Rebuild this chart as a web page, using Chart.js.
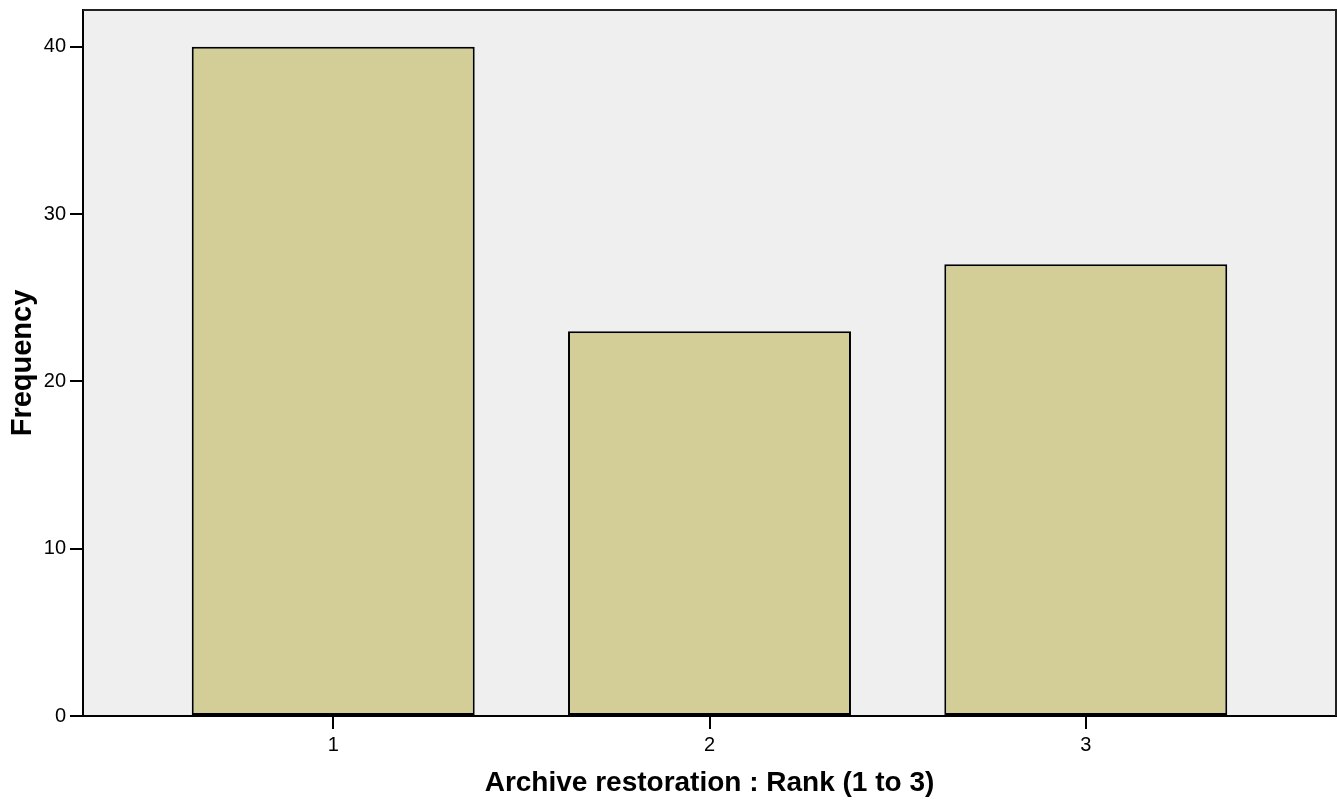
<!DOCTYPE html>
<html>
<head>
<meta charset="utf-8">
<script src="https://cdn.jsdelivr.net/npm/chart.js@4/dist/chart.umd.min.js"></script>
<style>
  html, body { margin: 0; padding: 0; background: #fff; }
  canvas { display: block; }
</style>
</head>
<body>
<canvas id="rankChart" width="1337" height="800"></canvas>
<script>
// data
const ranks = [1, 2, 3];
const frequency = [40, 23, 27];
const yTicks = [0, 10, 20, 30, 40];

const plotBackground = {
	id : 'plotBackground',
	beforeDraw(chart) {
		const { ctx, chartArea: a } = chart;
		ctx.save();
		ctx.fillStyle = '#efefef';
		ctx.fillRect(a.left, a.top, a.right - a.left, a.bottom - a.top);
		ctx.restore();
	},
	afterDraw(chart) {
		const { ctx, chartArea: a } = chart;
		ctx.save();
		ctx.strokeStyle = '#222';
		ctx.lineWidth = 2;
		ctx.beginPath();
		ctx.moveTo(a.left, a.top);
		ctx.lineTo(a.right, a.top);
		ctx.lineTo(a.right, a.bottom);
		ctx.stroke();
		ctx.restore();
	}
};

let ctx = document.getElementById('rankChart').getContext('2d');

let rankChart = new Chart(ctx, {
	type    : 'bar',
	data    : {
		datasets : [
			{
				label              : 'Frequency',
				data               : ranks.map((r, i) => ({ x: r, y: frequency[i] })),
				backgroundColor    : '#d3ce97',
				borderColor        : '#000',
				borderWidth        : 2,
				borderSkipped      : false,
				barPercentage      : 0.752,
				categoryPercentage : 1
			}
		]
	},
	plugins : [ plotBackground ],
	options : {
		responsive          : false,
		animation           : false,
		devicePixelRatio    : 1,
		layout              : { padding: { top: 10, right: 1, left: 0, bottom: 0 } },
		plugins             : { legend: { display: false }, tooltip: { enabled: false } },
		scales              : {
			x : {
				type            : 'linear',
				offset          : false,
				min             : 0.335,
				max             : 3.665,
				afterBuildTicks : (s) => { s.ticks = ranks.map((v) => ({ value: v })); },
				afterFit        : (s) => { s.height = 84; s.paddingLeft = 0; s.paddingRight = 0; },
				grid            : { offset: false, drawOnChartArea: false, tickLength: 13, color: '#000', lineWidth: 2 },
				border          : { color: '#000', width: 2 },
				ticks           : { autoSkip: false, maxRotation: 0, color: '#000', font: { family: 'Liberation Sans', size: 20 }, padding: 4 },
				title           : {
					display : true,
					text    : 'Archive restoration : Rank (1 to 3)',
					color   : '#000',
					font    : { family: 'Liberation Sans', size: 28, weight: 'bold' },
					padding : { top: 0, bottom: 0 }
				}
			},
			y : {
				min             : 0,
				max             : 42.2,
				afterBuildTicks : (s) => { s.ticks = yTicks.map((v) => ({ value: v })); },
				afterFit        : (s) => { s.width = 83; s.paddingTop = 0; s.paddingBottom = 0; },
				grid            : { drawOnChartArea: false, tickLength: 13, color: '#000', lineWidth: 2 },
				border          : { color: '#000', width: 2 },
				ticks           : { autoSkip: false, color: '#000', font: { family: 'Liberation Sans', size: 20 }, padding: 4 },
				title           : {
					display : true,
					text    : 'Frequency',
					color   : '#000',
					font    : { family: 'Liberation Sans', size: 29, weight: 'bold' },
					padding : { top: 6, bottom: 0 }
				}
			}
		}
	}
});
</script>
</body>
</html>
